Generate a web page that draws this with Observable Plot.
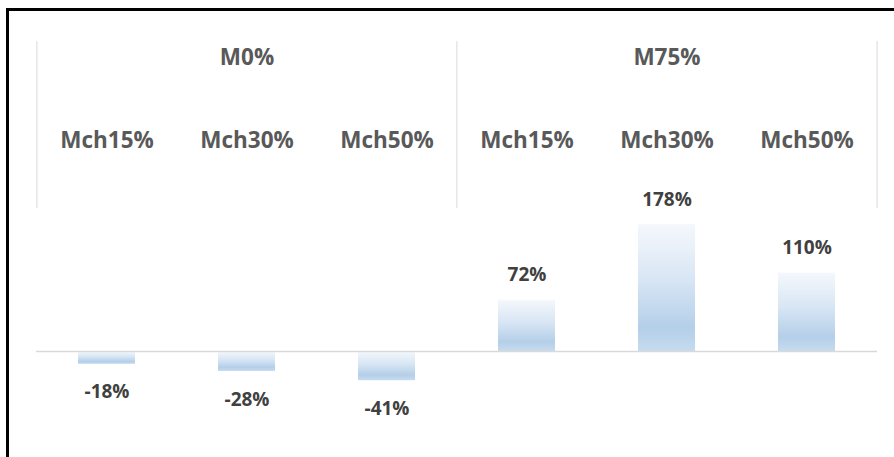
<!DOCTYPE html>
<html>
<head>
<meta charset="utf-8">
<script src="https://cdn.jsdelivr.net/npm/d3@7"></script>
<script src="https://cdn.jsdelivr.net/npm/@observablehq/plot@0.6"></script>
<style>
  html, body { margin: 0; padding: 0; background: #fff; overflow: hidden; }
  #wrap { position: relative; width: 894px; height: 457px; overflow: hidden; }
  .bl { position: absolute; background: #000; pointer-events: none; }
  #bTop { left: 6px; top: 8px; width: 888px; height: 3px; }
  #bLeft { left: 6px; top: 8px; width: 3px; height: 449px; }
  svg { display: block; }
</style>
</head>
<body>
<div id="wrap"><div id="chart"></div><div class="bl" id="bTop"></div><div class="bl" id="bLeft"></div></div>
<script>
// ---- data ----
const groups = ["M0%", "M0%", "M0%", "M75%", "M75%", "M75%"];
const subs = ["Mch15%", "Mch30%", "Mch50%", "Mch15%", "Mch30%", "Mch50%"];
const values = [-18, -28, -41, 72, 178, 110];
const groupNames = ["M0%", "M75%"];

const data = values.map((v, i) => ({
  key: groups[i] + " " + subs[i],
  group: groups[i],
  sub: subs[i],
  value: v,
  label: v + "%"
}));
const keys = data.map(d => d.key);

// ---- layout ----
const W = 894, H = 457;
const mLeft = 36, mRight = 17, mTop = 41, mBottom = 34.7;
const step = (W - mLeft - mRight) / keys.length;
const font = "'Open Sans', Lato, sans-serif";

const groupMid = groupNames.map(g => {
  const ks = data.filter(d => d.group === g).map(d => d.key);
  return {key: ks[Math.floor(ks.length / 2)], name: g};
});
const leftEdges = groupNames.map(g => data.find(d => d.group === g).key);
const rightEdge = [keys[keys.length - 1]];

const plot = Plot.plot({
  width: W,
  height: H,
  marginLeft: mLeft,
  marginRight: mRight,
  marginTop: mTop,
  marginBottom: mBottom,
  style: {fontFamily: font, background: "transparent"},
  x: {domain: keys, paddingInner: 0.593, paddingOuter: 0.2965, axis: null},
  y: {domain: [-100, 200], range: [422.3, 208.4], axis: null},
  marks: [
    // header separators
    Plot.ruleX(leftEdges, {x: d => d, dx: -step / 2, insetBottom: 214.3, stroke: "#d9d9d9", strokeWidth: 1}),
    Plot.ruleX(rightEdge, {x: d => d, dx: step / 2, insetBottom: 214.3, stroke: "#d9d9d9", strokeWidth: 1}),
    // bars
    Plot.barY(data, {x: "key", y: "value", fill: "url(#barGrad)"}),
    // zero line
    Plot.ruleY([0], {stroke: "#d9d9d9", strokeWidth: 1.5}),
    // group labels
    Plot.text(groupMid, {x: "key", text: "name", frameAnchor: "top", lineAnchor: "middle", dy: 16.5,
      fontSize: 22.5, fontWeight: "bold", fill: "#595959"}),
    // sub labels
    Plot.text(data, {x: "key", text: "sub", frameAnchor: "top", lineAnchor: "middle", dy: 99,
      fontSize: 22.5, fontWeight: "bold", fill: "#595959"}),
    // value labels
    Plot.text(data.filter(d => d.value >= 0), {x: "key", y: "value", text: "label", dy: -25,
      fontSize: 19, fontWeight: "bold", fill: "#404040"}),
    Plot.text(data.filter(d => d.value < 0), {x: "key", y: "value", text: "label", dy: 28,
      fontSize: 19, fontWeight: "bold", fill: "#404040"})
  ]
});

// gradient definition for the bars
const svg = d3.select(plot);
const defs = svg.insert("defs", ":first-child");
const grad = defs.append("linearGradient")
  .attr("id", "barGrad").attr("x1", 0).attr("y1", 0).attr("x2", 0).attr("y2", 1);
grad.append("stop").attr("offset", "0%").attr("stop-color", "#f5f8fc");
grad.append("stop").attr("offset", "45%").attr("stop-color", "#d7e5f4");
grad.append("stop").attr("offset", "82%").attr("stop-color", "#b4cfe9");
grad.append("stop").attr("offset", "100%").attr("stop-color", "#c6dbef");

document.getElementById("chart").appendChild(plot);
</script>
</body>
</html>
